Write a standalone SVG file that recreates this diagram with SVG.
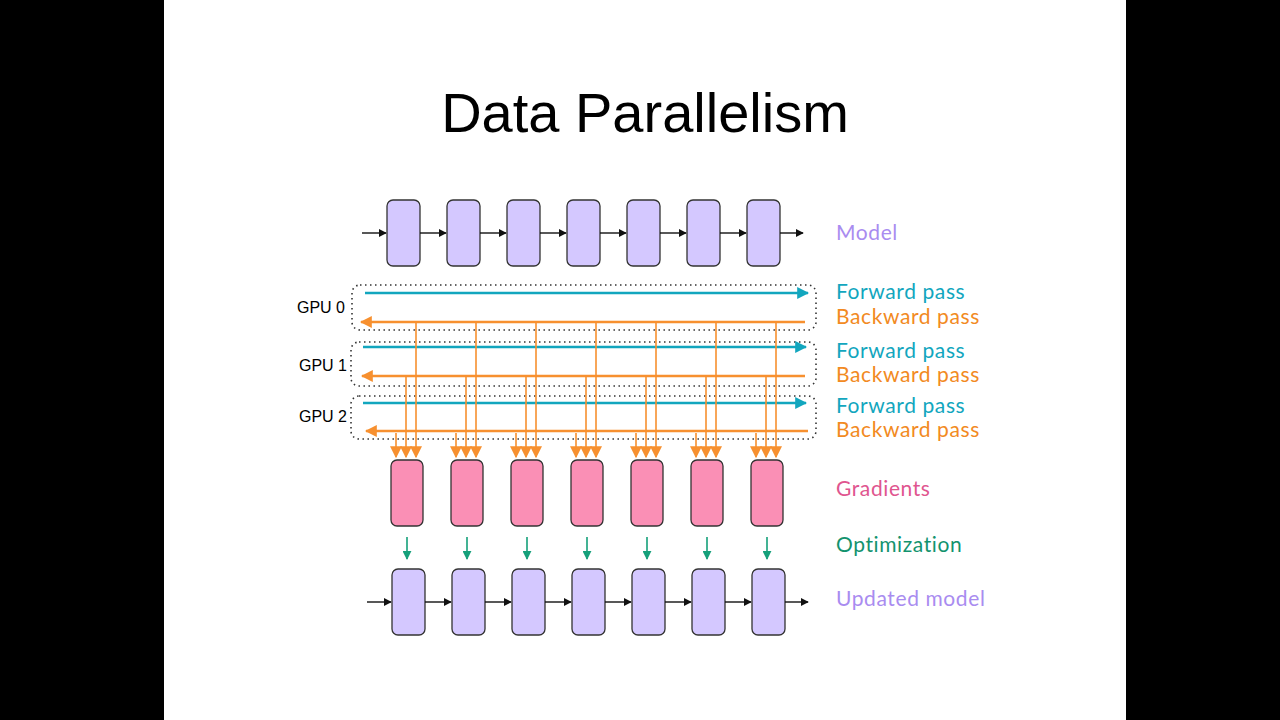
<svg xmlns="http://www.w3.org/2000/svg" width="1280" height="720" viewBox="0 0 1280 720">
<style>
.t{font-family:"Liberation Sans",Arial,sans-serif}
.lbl{font-family:Lato,"Noto Sans",sans-serif;font-size:21px;letter-spacing:0.6px}
.m{fill:#d4c8ff;stroke:#333;stroke-width:1.3}
.g{fill:#fa8fb5;stroke:#333;stroke-width:1.3}
.blk{stroke:#111;stroke-width:1.4;fill:none}
.fw{stroke:#12a6be;stroke-width:2.5;fill:none}
.bw{stroke:#f7902f;stroke-width:2.5;fill:none}
.dr{stroke:#f7902f;stroke-width:1.6;fill:none}
.gr{stroke:#15a07a;stroke-width:1.6;fill:none}
.box{fill:none;stroke:#333;stroke-width:1.6;stroke-dasharray:1.5 3.5}
</style>
<defs>
<marker id="ab" viewBox="0 0 10 10" refX="9" refY="5" markerWidth="8" markerHeight="8" markerUnits="userSpaceOnUse" orient="auto"><path d="M0,0L10,5L0,10z" fill="#111"/></marker>
<marker id="af" viewBox="0 0 10 10" refX="9" refY="5" markerWidth="12" markerHeight="12" markerUnits="userSpaceOnUse" orient="auto"><path d="M0,0L10,5L0,10z" fill="#12a6be"/></marker>
<marker id="ao" viewBox="0 0 10 10" refX="9" refY="5" markerWidth="12" markerHeight="12" markerUnits="userSpaceOnUse" orient="auto"><path d="M0,0L10,5L0,10z" fill="#f7902f"/></marker>
<marker id="ag" viewBox="0 0 10 10" refX="9" refY="5" markerWidth="9" markerHeight="9" markerUnits="userSpaceOnUse" orient="auto"><path d="M0,0L10,5L0,10z" fill="#15a07a"/></marker>
</defs>
<rect width="1280" height="720" fill="#000"/>
<rect x="164" y="0" width="962" height="720" fill="#fff"/>
<text class="t" x="645" y="132" font-size="56" text-anchor="middle">Data Parallelism</text>

<g id="model">
<rect class="m" x="387" y="200" width="33" height="66" rx="6"/>
<rect class="m" x="447" y="200" width="33" height="66" rx="6"/>
<rect class="m" x="507" y="200" width="33" height="66" rx="6"/>
<rect class="m" x="567" y="200" width="33" height="66" rx="6"/>
<rect class="m" x="627" y="200" width="33" height="66" rx="6"/>
<rect class="m" x="687" y="200" width="33" height="66" rx="6"/>
<rect class="m" x="747" y="200" width="33" height="66" rx="6"/>
</g>
<g id="gpu0"><rect class="box" x="352" y="285" width="464" height="45" rx="8"/><text class="t" x="345" y="313" font-size="16" text-anchor="end">GPU 0</text></g>
<g id="gpu1"><rect class="box" x="351" y="342" width="465" height="44" rx="8"/><text class="t" x="347" y="371" font-size="16" text-anchor="end">GPU 1</text></g>
<g id="gpu2"><rect class="box" x="351" y="396" width="465" height="43" rx="8"/><text class="t" x="347" y="422" font-size="16" text-anchor="end">GPU 2</text></g>
<g id="gradients">
<rect class="g" x="391" y="460" width="32" height="66" rx="6"/>
<rect class="g" x="451" y="460" width="32" height="66" rx="6"/>
<rect class="g" x="511" y="460" width="32" height="66" rx="6"/>
<rect class="g" x="571" y="460" width="32" height="66" rx="6"/>
<rect class="g" x="631" y="460" width="32" height="66" rx="6"/>
<rect class="g" x="691" y="460" width="32" height="66" rx="6"/>
<rect class="g" x="751" y="460" width="32" height="66" rx="6"/>
</g>
<g id="updated">
<rect class="m" x="392" y="569" width="33" height="66" rx="6"/>
<rect class="m" x="452" y="569" width="33" height="66" rx="6"/>
<rect class="m" x="512" y="569" width="33" height="66" rx="6"/>
<rect class="m" x="572" y="569" width="33" height="66" rx="6"/>
<rect class="m" x="632" y="569" width="33" height="66" rx="6"/>
<rect class="m" x="692" y="569" width="33" height="66" rx="6"/>
<rect class="m" x="752" y="569" width="33" height="66" rx="6"/>
</g>
<g id="connectors">
<g marker-end="url(#ab)" class="blk">
<path d="M362,233H386"/><path d="M420,233H446"/><path d="M480,233H506"/><path d="M540,233H566"/><path d="M600,233H626"/><path d="M660,233H686"/><path d="M720,233H746"/><path d="M780,233H803"/>
<path d="M367,602H391"/><path d="M425,602H451"/><path d="M485,602H511"/><path d="M545,602H571"/><path d="M605,602H631"/><path d="M665,602H691"/><path d="M725,602H751"/><path d="M785,602H808"/>
</g>
<path class="fw" marker-end="url(#af)" d="M365,293H808"/>
<path class="fw" marker-end="url(#af)" d="M363,347H806"/>
<path class="fw" marker-end="url(#af)" d="M363,403H806"/>
<path class="bw" marker-end="url(#ao)" d="M805,322H361"/>
<path class="bw" marker-end="url(#ao)" d="M805,376H362"/>
<path class="bw" marker-end="url(#ao)" d="M808,431H366"/>
<g class="dr" marker-end="url(#ao)">
<path d="M416,322V457"/><path d="M476,322V457"/><path d="M536,322V457"/><path d="M596,322V457"/><path d="M656,322V457"/><path d="M716,322V457"/><path d="M776,322V457"/>
<path d="M406,376V457"/><path d="M466,376V457"/><path d="M526,376V457"/><path d="M586,376V457"/><path d="M646,376V457"/><path d="M706,376V457"/><path d="M766,376V457"/>
<path d="M396,433V457"/><path d="M456,433V457"/><path d="M516,433V457"/><path d="M576,433V457"/><path d="M636,433V457"/><path d="M696,433V457"/><path d="M756,433V457"/>
</g>
<g class="gr" marker-end="url(#ag)">
<path d="M407,537V559"/><path d="M467,537V559"/><path d="M527,537V559"/><path d="M587,537V559"/><path d="M647,537V559"/><path d="M707,537V559"/><path d="M767,537V559"/>
</g>
</g>
<g id="labels" class="lbl">
<text x="836" y="240" fill="#a98cf0">Model</text>
<text x="836" y="299" fill="#12a6be">Forward pass</text>
<text x="836" y="324" fill="#f28a22">Backward pass</text>
<text x="836" y="358" fill="#12a6be">Forward pass</text>
<text x="836" y="382" fill="#f28a22">Backward pass</text>
<text x="836" y="413" fill="#12a6be">Forward pass</text>
<text x="836" y="437" fill="#f28a22">Backward pass</text>
<text x="836" y="496" fill="#e0558f">Gradients</text>
<text x="836" y="552" fill="#13936e">Optimization</text>
<text x="836" y="606" fill="#a98cf0">Updated model</text>
</g>
</svg>
